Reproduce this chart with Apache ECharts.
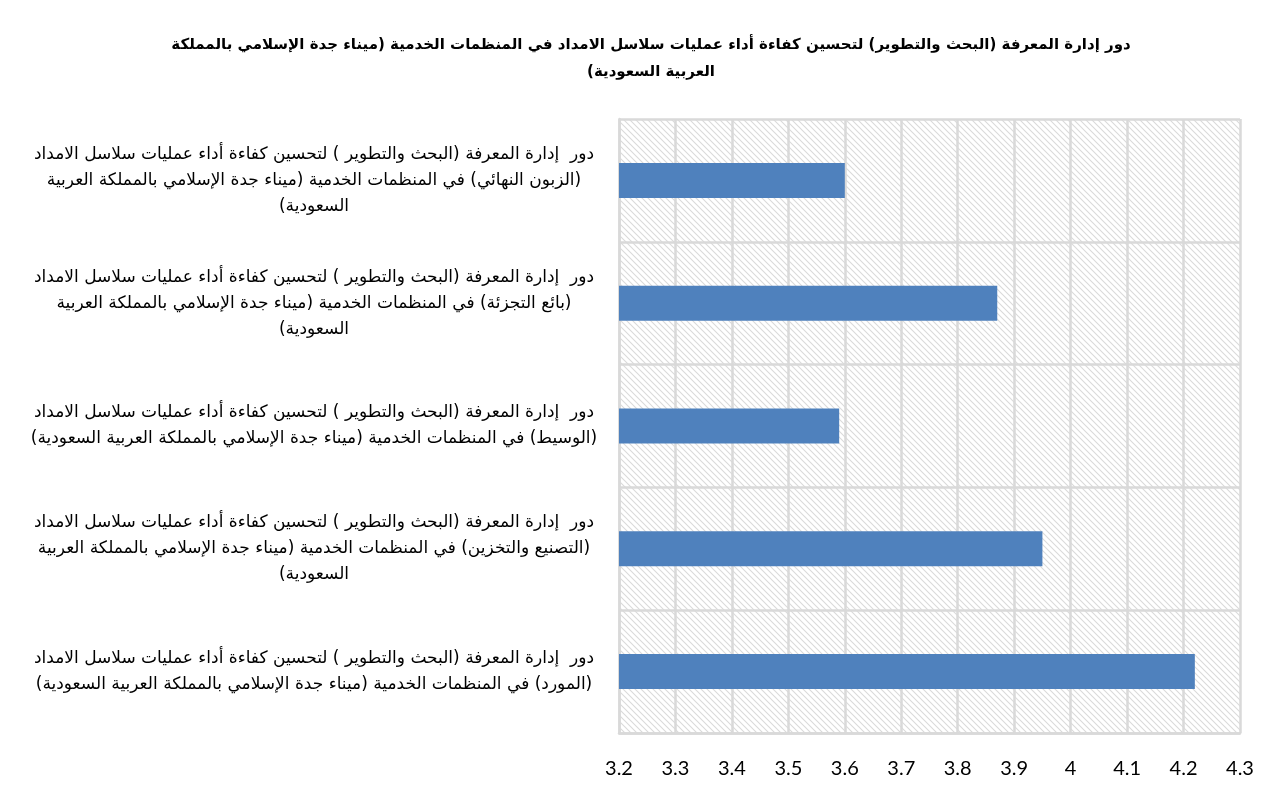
<!DOCTYPE html>
<html>
<head>
    <meta charset="utf-8">
    <title>دور إدارة المعرفة</title>
    <script src="https://cdn.jsdelivr.net/npm/echarts@6.0.0/dist/echarts.min.js"></script>
    <style>
        body { margin: 0; background: #fff; overflow: hidden; }
        #chart { width: 1270px; height: 798px; direction: rtl; }
    </style>
</head>
<body>
    <div id="chart"></div>
    <script>
        // categories listed bottom to top, as Excel draws them
        const categories = [
            'دور  إدارة المعرفة (البحث والتطوير ) لتحسين كفاءة أداء عمليات سلاسل الامداد\n(المورد) في المنظمات الخدمية (ميناء جدة الإسلامي بالمملكة العربية السعودية)',
            'دور  إدارة المعرفة (البحث والتطوير ) لتحسين كفاءة أداء عمليات سلاسل الامداد\n(التصنيع والتخزين) في المنظمات الخدمية (ميناء جدة الإسلامي بالمملكة العربية\nالسعودية)',
            'دور  إدارة المعرفة (البحث والتطوير ) لتحسين كفاءة أداء عمليات سلاسل الامداد\n(الوسيط) في المنظمات الخدمية (ميناء جدة الإسلامي بالمملكة العربية السعودية)',
            'دور  إدارة المعرفة (البحث والتطوير ) لتحسين كفاءة أداء عمليات سلاسل الامداد\n(بائع التجزئة) في المنظمات الخدمية (ميناء جدة الإسلامي بالمملكة العربية\nالسعودية)',
            'دور  إدارة المعرفة (البحث والتطوير ) لتحسين كفاءة أداء عمليات سلاسل الامداد\n(الزبون النهائي) في المنظمات الخدمية (ميناء جدة الإسلامي بالمملكة العربية\nالسعودية)'
        ];
        const values = [4.22, 3.95, 3.59, 3.87, 3.60];
        const axisMin = 3.2;
        const axisMax = 4.3;
        const axisStep = 0.1;
        const titleText = 'دور إدارة المعرفة (البحث والتطوير) لتحسين كفاءة أداء عمليات سلاسل الامداد في المنظمات الخدمية (ميناء جدة الإسلامي بالمملكة\nالعربية السعودية)';

        // diagonal hatch tile for the plot area
        function makeHatch() {
            const c = document.createElement('canvas');
            c.width = 6; c.height = 6;
            const g = c.getContext('2d');
            g.fillStyle = '#ffffff';
            g.fillRect(0, 0, 6, 6);
            g.strokeStyle = '#dadada';
            g.lineWidth = 1.1;
            g.beginPath();
            g.moveTo(-1, -1); g.lineTo(7, 7);
            g.moveTo(-1, 5); g.lineTo(1, 7);
            g.moveTo(5, -1); g.lineTo(7, 1);
            g.stroke();
            return c;
        }

        const chart = echarts.init(document.getElementById('chart'));
        const gridColor = '#d9d9d9';

        chart.setOption({
            animation: false,
            backgroundColor: '#ffffff',
            title: {
                text: titleText,
                left: 646,
                top: 27,
                textAlign: 'center',
                textStyle: {
                    fontFamily: 'DejaVu Sans',
                    fontSize: 15,
                    fontWeight: 'bold',
                    color: '#000',
                    lineHeight: 27
                }
            },
            grid: {
                left: 619, right: 30, top: 119, bottom: 65,
                show: true,
                borderWidth: 0,
                backgroundColor: { image: makeHatch(), repeat: 'repeat' }
            },
            xAxis: {
                type: 'value',
                min: axisMin,
                max: axisMax,
                interval: axisStep,
                axisLine: { show: true, lineStyle: { color: gridColor, width: 2.5 } },
                axisTick: { show: false },
                splitLine: { show: true, lineStyle: { color: gridColor, width: 2.5 } },
                axisLabel: {
                    color: '#000',
                    fontFamily: 'Lato',
                    fontSize: 20,
                    margin: 26,
                    formatter: v => String(Math.round(v * 10) / 10)
                }
            },
            yAxis: {
                type: 'category',
                data: categories,
                axisLine: { show: true, lineStyle: { color: gridColor, width: 2.5 } },
                axisTick: { show: false },
                splitLine: { show: true, lineStyle: { color: gridColor, width: 2.5 } },
                axisLabel: {
                    color: '#000',
                    fontFamily: 'DejaVu Sans',
                    fontSize: 17,
                    lineHeight: 26,
                    align: 'center',
                    margin: 305
                }
            },
            series: [{
                type: 'bar',
                data: values,
                barWidth: 35,
                itemStyle: { color: '#4f81bd' }
            }]
        });
    </script>
</body>
</html>
